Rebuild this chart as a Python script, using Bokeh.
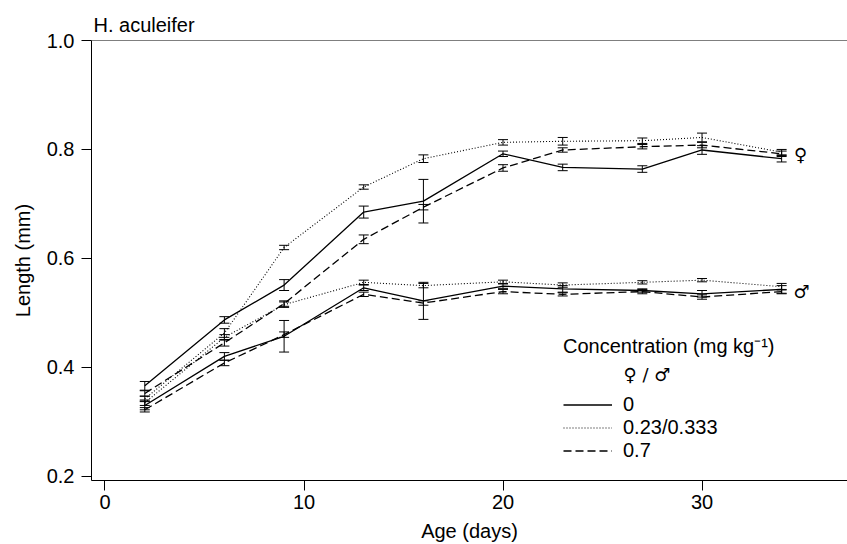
from bokeh.plotting import figure
from bokeh.models import (ColumnDataSource, Whisker, TeeHead, Span, Label, Legend,
                          LegendItem, FixedTicker, PrintfTickFormatter, Range1d)
from bokeh.embed import file_html
from bokeh.resources import INLINE

# ---------------- data ----------------
days = [2, 6, 9, 13, 16, 20, 23, 27, 30, 34]

f_0 = [0.366, 0.487, 0.551, 0.685, 0.705, 0.792, 0.767, 0.764, 0.799, 0.783]
f_0_err = [0.008, 0.006, 0.010, 0.011, 0.040, 0.005, 0.006, 0.006, 0.008, 0.006]
f_mid = [0.342, 0.463, 0.620, 0.731, 0.783, 0.813, 0.815, 0.816, 0.822, 0.795]
f_mid_err = [0.005, 0.008, 0.004, 0.004, 0.007, 0.005, 0.007, 0.005, 0.008, 0.005]
f_hi = [0.352, 0.445, 0.517, 0.635, 0.694, 0.766, 0.799, 0.805, 0.808, 0.792]
f_hi_err = [0.005, 0.006, 0.005, 0.008, 0.005, 0.006, 0.004, 0.004, 0.005, 0.005]

m_0 = [0.330, 0.420, 0.457, 0.546, 0.522, 0.549, 0.544, 0.541, 0.535, 0.543]
m_0_err = [0.008, 0.007, 0.029, 0.005, 0.034, 0.004, 0.006, 0.003, 0.006, 0.007]
m_mid = [0.335, 0.455, 0.515, 0.556, 0.550, 0.557, 0.551, 0.556, 0.560, 0.548]
m_mid_err = [0.005, 0.005, 0.005, 0.004, 0.004, 0.003, 0.004, 0.003, 0.003, 0.006]
m_hi = [0.322, 0.408, 0.460, 0.534, 0.518, 0.539, 0.534, 0.539, 0.529, 0.539]
m_hi_err = [0.004, 0.005, 0.005, 0.004, 0.004, 0.004, 0.003, 0.004, 0.004, 0.004]

conc_labels = ["0", "0.23/0.333", "0.7"]
x_ticks = [0, 10, 20, 30]
y_ticks = [0.2, 0.4, 0.6, 0.8, 1.0]

FONT = "Liberation Sans"
SYM_FONT = "DejaVu Sans"
FS = "20px"
SYM_FS = "18px"

p = figure(width=847, height=544, output_backend="svg", toolbar_location=None,
           x_range=Range1d(-0.678, 37.31), y_range=Range1d(0.1922, 1.0),
           min_border_left=91, min_border_right=0, min_border_top=40, min_border_bottom=63)
p.grid.visible = False
p.outline_line_color = None
p.background_fill_color = "white"

# title
p.title.text = "H. aculeifer"
p.title.align = "left"
p.title.text_font = FONT
p.title.text_font_size = FS
p.title.text_font_style = "normal"
p.title.text_color = "black"
p.title.offset = 2
p.title.standoff = 9

styles = [dict(line_dash="solid", line_width=1.3),
          dict(line_dash="1 2", line_width=1.1),
          dict(line_dash="8 4", line_width=1.3)]

series = [(f_0, f_0_err, f_mid, f_mid_err, f_hi, f_hi_err),
          (m_0, m_0_err, m_mid, m_mid_err, m_hi, m_hi_err)]

legend_renderers = []
for sex_idx, (a, ae, b, be, c, ce) in enumerate(series):
    for k, (vals, errs) in enumerate([(a, ae), (b, be), (c, ce)]):
        src = ColumnDataSource(dict(x=days, y=vals,
                                    lo=[v - e for v, e in zip(vals, errs)],
                                    hi=[v + e for v, e in zip(vals, errs)]))
        r = p.line("x", "y", source=src, line_color="black", **styles[k])
        if sex_idx == 0:
            legend_renderers.append(r)
        w = Whisker(base="x", upper="hi", lower="lo", source=src, dimension="height",
                    line_color="black", line_width=1,
                    upper_head=TeeHead(size=10, line_color="black", line_width=1),
                    lower_head=TeeHead(size=10, line_color="black", line_width=1))
        p.add_layout(w)

# top border line
p.add_layout(Span(location=1.0, dimension="width", line_color="black", line_width=1))

# axes
for ax in (p.xaxis[0], p.yaxis[0]):
    ax.axis_line_color = "black"
    ax.axis_line_width = 1
    ax.major_tick_line_color = "black"
    ax.major_tick_out = 10
    ax.major_tick_in = 0
    ax.minor_tick_line_color = None
    ax.major_label_text_font = FONT
    ax.major_label_text_font_size = FS
    ax.major_label_text_color = "black"
    ax.axis_label_text_font = FONT
    ax.axis_label_text_font_size = FS
    ax.axis_label_text_font_style = "normal"
    ax.axis_label_text_color = "black"

p.xaxis.ticker = FixedTicker(ticks=x_ticks)
p.xaxis.formatter = PrintfTickFormatter(format="%d")
p.xaxis.axis_label = "Age (days)"
p.xaxis.major_label_standoff = 4
p.xaxis.axis_label_standoff = 8

p.yaxis.ticker = FixedTicker(ticks=y_ticks)
p.yaxis.formatter = PrintfTickFormatter(format="%.1f")
p.yaxis.axis_label = "Length (mm)"
p.yaxis.major_label_standoff = 7
p.yaxis.axis_label_standoff = 10

# sex symbols at line ends
p.add_layout(Label(x=34.95, y=0.791, text="\u2640", text_font=SYM_FONT, text_font_size=SYM_FS,
                   text_color="black", text_baseline="middle", text_align="center"))
p.add_layout(Label(x=35.0, y=0.540, text="\u2642", text_font=SYM_FONT, text_font_size=SYM_FS,
                   text_color="black", text_baseline="middle", text_align="center"))

# legend
p.add_layout(Label(x=26.06, y=0.3863, text="\u2640 / \u2642", text_font=SYM_FONT, text_font_size=SYM_FS,
                   text_color="black", text_baseline="middle", text_align="left"))
legend = Legend(items=[LegendItem(label=lab, renderers=[r]) for lab, r in zip(conc_labels, legend_renderers)],
                location=(472, 18), orientation="vertical",
                title="Concentration (mg kg\u207b\u00b9)",
                title_text_font=FONT, title_text_font_size=FS, title_text_font_style="normal",
                title_text_color="black", title_standoff=34,
                label_text_font=FONT, label_text_font_size=FS, label_text_color="black",
                glyph_width=49, glyph_height=21, label_height=21, label_standoff=11,
                spacing=0, padding=0, margin=0,
                background_fill_alpha=0, border_line_color=None)
p.add_layout(legend, "center")

open("out.html", "w").write(file_html(p, INLINE))
